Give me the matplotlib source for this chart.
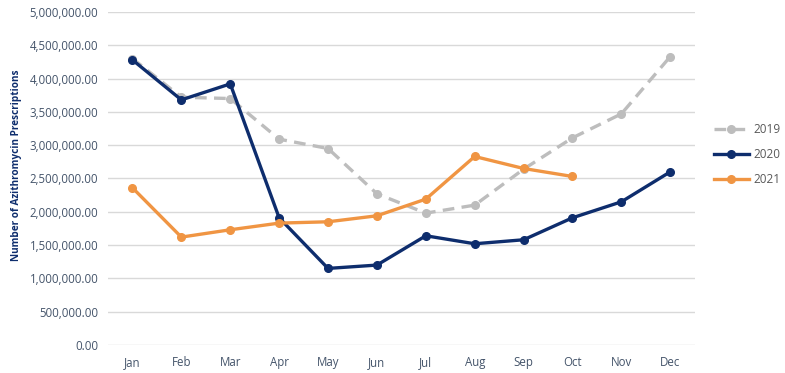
import matplotlib

matplotlib.use("Agg")
import matplotlib.pyplot as plt
from matplotlib.ticker import FuncFormatter, MultipleLocator

months = ["Jan", "Feb", "Mar", "Apr", "May", "Jun",
          "Jul", "Aug", "Sep", "Oct", "Nov", "Dec"]
rx_2019 = [4300000, 3720000, 3700000, 3090000, 2950000, 2270000,
           1980000, 2100000, 2640000, 3110000, 3470000, 4330000]
rx_2020 = [4280000, 3680000, 3920000, 1910000, 1150000, 1200000,
           1640000, 1520000, 1580000, 1910000, 2150000, 2600000]
rx_2021 = [2360000, 1620000, 1730000, 1830000, 1850000, 1940000,
           2190000, 2830000, 2650000, 2530000]

GRAY = "#BDBDBD"
NAVY = "#0E2D6D"
ORANGE = "#F09543"
TICK = "#44546A"

plt.rcParams["font.family"] = ["Open Sans", "DejaVu Sans"]

fig = plt.figure(figsize=(7.85, 3.73), dpi=100)
ax = fig.add_axes([0.1376, 0.075, 0.7474, 0.893])

x = list(range(len(months)))
ax.plot(x, rx_2019, color=GRAY, linewidth=2.4, dashes=(3.5, 2.2),
        marker="o", markersize=5.5, label="2019", zorder=3)
ax.plot(x, rx_2020, color=NAVY, linewidth=2.4,
        marker="o", markersize=5.5, label="2020", zorder=4)
ax.plot(x[:len(rx_2021)], rx_2021, color=ORANGE, linewidth=2.4,
        marker="o", markersize=5.5, label="2021", zorder=5)

ax.set_xlim(-0.5, 11.5)
ax.set_ylim(0, 5000000)
ax.yaxis.set_major_locator(MultipleLocator(500000))
ax.yaxis.set_major_formatter(FuncFormatter(lambda v, _: f"{v:,.2f}"))
ax.set_xticks(x)
ax.set_xticklabels(months)
ax.grid(axis="y", color="#D9D9D9", linewidth=1)
ax.set_axisbelow(True)
for s in ax.spines.values():
    s.set_visible(False)
ax.tick_params(length=0, labelsize=8.3, labelcolor=TICK)
ax.tick_params(axis="y", pad=7)
ax.tick_params(axis="x", pad=8)

ax.set_ylabel("Number of Azithromycin Prescriptions", fontsize=7.2,
              fontweight="bold", color=NAVY)
ax.yaxis.set_label_coords(-0.147, 0.54)

fig.legend(loc="center left", bbox_to_anchor=(0.909, 0.585), frameon=False,
           fontsize=8.5, labelcolor="#595959", handlelength=3.0,
           handletextpad=0.4, labelspacing=1.0, borderpad=0,
           borderaxespad=0)

fig.savefig("out.png", dpi=100)
